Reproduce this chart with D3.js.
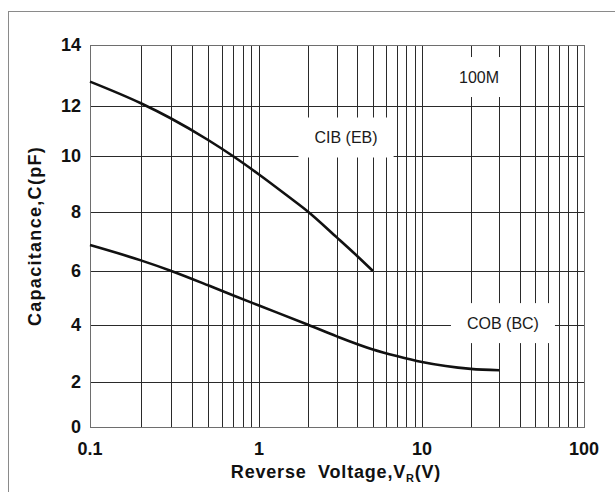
<!DOCTYPE html>
<html>
<head>
<meta charset="utf-8">
<script src="https://cdn.jsdelivr.net/npm/d3@7"></script>
<style>
  html, body { margin: 0; padding: 0; background: #fff; }
  svg { display: block; }
  text { font-family: Arial, "Liberation Sans", Helvetica, sans-serif; }
</style>
</head>
<body>
<svg id="chart" width="615" height="492"></svg>
<script>
// Input capacitance (emitter-base) vs reverse voltage
const cibVoltage = [0.1, 0.2, 0.3, 0.5, 0.7, 1, 1.5, 2, 3, 4, 5];
const cibCap     = [12.8, 12.09, 11.51, 10.64, 10.0, 9.34, 8.57, 8.01, 7.14, 6.51, 6.0];

// Output capacitance (collector-base) vs reverse voltage
const cobVoltage = [0.1, 0.2, 0.3, 0.5, 0.7, 1, 2, 3, 5, 7, 10, 20, 30];
const cobCap     = [6.88, 6.36, 6.01, 5.47, 5.10, 4.72, 4.01, 3.60, 3.14, 2.91, 2.70, 2.46, 2.41];

// Axis ticks
const xTickValues = [0.1, 1, 10, 100];
const xTickLabels = ["0.1", "1", "10", "100"];
const yTickValues = [0, 2, 4, 6, 8, 10, 12, 14];
const yTickLabels = ["0", "2", "4", "6", "8", "10", "12", "14"];

// Curve annotations (text, voltage, capacitance at label centre)
const annotationText = ["100M", "CIB (EB)", "COB (BC)"];
const annotationV    = [22.5, 3.42, 31.6];
const annotationC    = [12.95, 10.74, 4.07];

const svg = d3.select("#chart");

// Outer frame
svg.append("rect")
  .attr("x", 8.5).attr("y", 11.5)
  .attr("width", 620).attr("height", 500)
  .attr("fill", "none").attr("stroke", "#8a8a8a").attr("stroke-width", 1);

// Scales (the printed grid is slightly uneven, so piecewise ranges are used)
const x = d3.scaleLog()
  .domain([0.1, 1, 10, 100])
  .range([90, 259, 422, 584]);
const y = d3.scaleLinear()
  .domain([0, 2, 4, 6, 8, 10, 12, 14])
  .range([427, 382, 325, 271, 212, 156, 106, 45]);

const [x0, x1] = [x(0.1), x(100)];
const [y0, y1] = [y(0), y(14)];

// Log grid: 1..9 in every decade
const xGrid = [];
[0.1, 1, 10].forEach(d => { for (let k = 1; k <= 9; k++) xGrid.push(+(d * k).toPrecision(3)); });
xGrid.push(100);

const grid = svg.append("g").attr("stroke", "#2a2a2a").attr("stroke-width", 1).attr("fill", "none");
grid.selectAll("line.v").data(xGrid).join("line")
  .attr("class", "v")
  .attr("x1", d => Math.round(x(d)) + 0.5).attr("x2", d => Math.round(x(d)) + 0.5)
  .attr("y1", y1).attr("y2", y0);
grid.selectAll("line.h").data(yTickValues).join("line")
  .attr("class", "h")
  .attr("y1", d => Math.round(y(d)) + 0.5).attr("y2", d => Math.round(y(d)) + 0.5)
  .attr("x1", x0).attr("x2", x1);

// Plot border
svg.append("rect")
  .attr("x", x0 + 0.5).attr("y", y1 + 0.5)
  .attr("width", x1 - x0).attr("height", y0 - y1)
  .attr("fill", "none").attr("stroke", "#6e6e6e").attr("stroke-width", 1);

// White label boxes that interrupt the grid
const annGroup = svg.append("g");
const ann = annotationText.map((t, i) => ({ t, v: annotationV[i], c: annotationC[i] }));
const annSel = annGroup.selectAll("g").data(ann).join("g")
  .attr("transform", d => `translate(${x(d.v)},${y(d.c)})`);
annSel.append("rect").attr("class", "bg").attr("fill", "#fff");
annSel.append("text")
  .attr("text-anchor", "middle")
  .attr("dy", "0.36em")
  .attr("font-size", 16)
  .attr("fill", "#1a1a1a")
  .text(d => d.t);
annSel.each(function () {
  const g = d3.select(this);
  const w = g.select("text").node().getComputedTextLength();
  g.select("rect.bg")
    .attr("x", -w / 2 - 16).attr("y", -20)
    .attr("width", w + 32).attr("height", 40);
});

// Curves
const line = d3.line()
  .x(d => x(d[0]))
  .y(d => y(d[1]))
  .curve(d3.curveMonotoneX);

svg.append("path")
  .datum(cibVoltage.map((v, i) => [v, cibCap[i]]))
  .attr("d", line)
  .attr("fill", "none").attr("stroke", "#111").attr("stroke-width", 2.6);

svg.append("path")
  .datum(cobVoltage.map((v, i) => [v, cobCap[i]]))
  .attr("d", line)
  .attr("fill", "none").attr("stroke", "#111").attr("stroke-width", 2.6);

// Tick labels
svg.append("g").selectAll("text").data(xTickValues).join("text")
  .attr("x", d => x(d)).attr("y", 455)
  .attr("text-anchor", "middle")
  .attr("font-size", 18).attr("font-weight", "bold").attr("fill", "#111")
  .text((d, i) => xTickLabels[i]);

svg.append("g").selectAll("text").data(yTickValues).join("text")
  .attr("x", 81).attr("y", d => y(d))
  .attr("dy", "0.36em")
  .attr("text-anchor", "end")
  .attr("font-size", 18).attr("font-weight", "bold").attr("fill", "#111")
  .text((d, i) => yTickLabels[i]);

// Axis titles
const xt = svg.append("text")
  .attr("x", 336).attr("y", 478)
  .attr("text-anchor", "middle")
  .attr("font-size", 18).attr("font-weight", "bold").attr("fill", "#111")
  .attr("letter-spacing", 0.8)
  .attr("xml:space", "preserve");
xt.append("tspan").text("Reverse  Voltage,V");
xt.append("tspan").attr("font-size", 11).attr("dy", 4).text("R");
xt.append("tspan").attr("dy", -4).text("(V)");

svg.append("text")
  .attr("transform", `translate(41,${(y0 + y1) / 2}) rotate(-90)`)
  .attr("text-anchor", "middle")
  .attr("font-size", 18).attr("font-weight", "bold").attr("fill", "#111")
  .attr("letter-spacing", 1.3)
  .text("Capacitance,C(pF)");
</script>
</body>
</html>
